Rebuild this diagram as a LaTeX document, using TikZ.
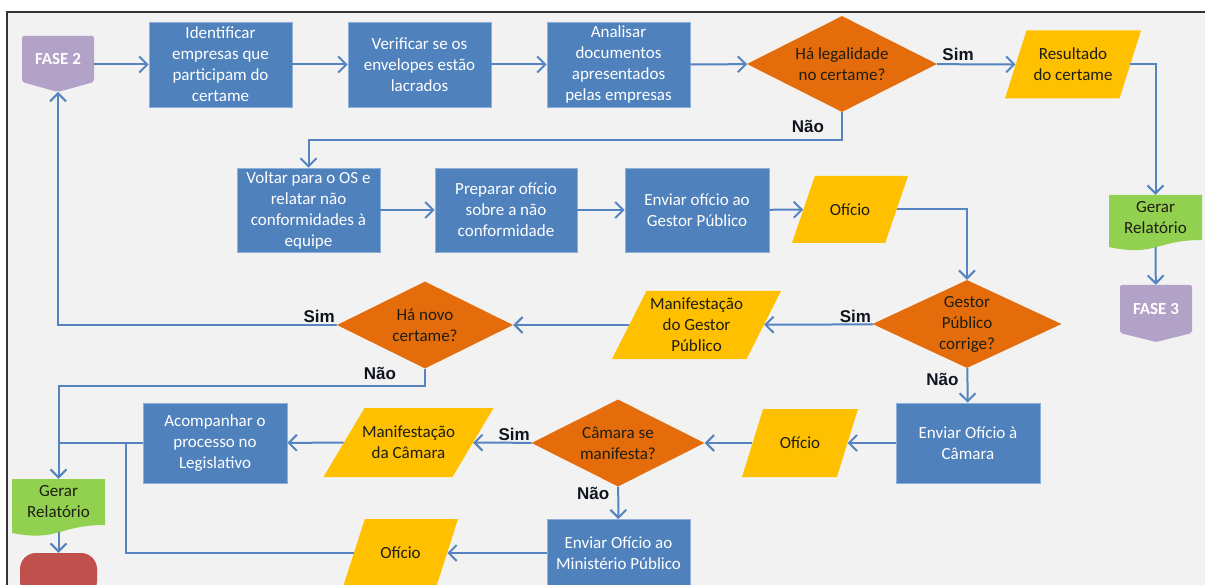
\documentclass[tikz,border=0pt]{standalone}
\usepackage{fontspec}
\setmainfont{Carlito}
\newfontfamily\lblfont{Liberation Sans}
\usetikzlibrary{arrows.meta,shapes.geometric}
\definecolor{bgc}{HTML}{F2F2F2}
\definecolor{bluebox}{HTML}{4F81BD}
\definecolor{blueedge}{HTML}{8DB0DA}
\definecolor{orangec}{HTML}{E46C0A}
\definecolor{goldc}{HTML}{FFC000}
\definecolor{purplec}{HTML}{B3A2C7}
\definecolor{greenc}{HTML}{92D050}
\definecolor{redc}{HTML}{C0504D}
\definecolor{linec}{HTML}{5584C0}
\definecolor{txtc}{HTML}{1E1E14}
\definecolor{lblc}{HTML}{10141E}
\tikzset{
 base/.style={font=\fontsize{17}{21}\selectfont, align=center, inner sep=0pt},
 proc/.style={base, rectangle, fill=bluebox, draw=blueedge, line width=0.8pt, text=white, minimum width=143, minimum height=84},
 dia/.style={diamond, fill=orangec, inner sep=1pt},
 dtxt/.style={base, text=txtc},
 io/.style={trapezium, trapezium stretches=true, fill=goldc, inner sep=1pt, minimum height=68},
 conn/.style={draw=linec, line width=2pt},
 arr/.style={conn, -{Straight Barb[length=8pt,width=16pt]}},
 lbl/.style={font=\lblfont\bfseries\fontsize{17}{20}\selectfont, text=lblc, inner sep=1pt},
 fasetxt/.style={base, font=\bfseries\fontsize{17}{21}\selectfont, text=white, minimum width=72},
 doctxt/.style={base, text=txtc, minimum width=93, minimum height=46},
 term/.style={rectangle, rounded corners=16pt, fill=redc, minimum width=77, minimum height=44},
}
\begin{document}
\begin{tikzpicture}[x=1pt,y=-1pt]
\useasboundingbox (0,0) rectangle (1205,585);
\clip (0,0) rectangle (1205,585);
\fill[white] (0,0) rectangle (1205,585);
\fill[bgc] (7,12) rectangle (1205,585);
\draw[black!80, line width=1.4pt] (7,590) -- (7,12) -- (1210,12);

% ---- custom shapes (FASE, document) ----
\fill[purplec, rounded corners=2pt] (22,36) -- (94,36) -- (94,82) -- (58,92) -- (22,82) -- cycle;
\node[fasetxt, minimum height=46] (fase2) at (58,59) {FASE 2};
\coordinate (fase2tip) at (58,92);

\fill[purplec, rounded corners=2pt] (1120,285) -- (1192,285) -- (1192,333) -- (1156,342) -- (1120,333) -- cycle;
\node[fasetxt, minimum height=48] (fase3) at (1156,309) {FASE 3};

\fill[greenc] (1109,195) -- (1202,195) -- (1202,240) .. controls (1155.5,240) and (1155.5,257) .. (1109,247) -- cycle;
\node[doctxt] (ger1) at (1155.5,218) {Gerar\\Relatório};
\coordinate (g1b) at (1155.5,247);

\fill[greenc] (12,479) -- (105,479) -- (105,525) .. controls (58.5,525) and (58.5,542) .. (12,533) -- cycle;
\node[doctxt] (ger2) at (58.5,502) {Gerar\\Relatório};
\coordinate (g2b) at (58.5,532);

\node[term] (red) at (58.5,575) {};

% ---- row 1 ----
\node[proc, minimum height=85] (id) at (220.5,64.5) {Identificar\\empresas que\\participam do\\certame};
\node[proc, minimum height=85] (ver) at (419.5,64.5) {Verificar se os\\envelopes estão\\lacrados};
\node[proc, minimum height=85] (ana) at (618.5,64.5) {Analisar\\documentos\\apresentados\\pelas empresas};
\node[dia, minimum width=190, minimum height=96, label={[dtxt]center:{Há legalidade\\no certame?}}] (leg) at (842,64) {};
\node[io, minimum width=136, trapezium left angle=77, trapezium right angle=103, label={[dtxt]center:{Resultado\\do certame}}] (res) at (1073,64.5) {};

% ---- row 2 ----
\node[proc] (volt) at (308.5,210) {Voltar para o OS e\\relatar não\\conformidades à\\equipe};
\node[proc, minimum width=142] (prep) at (506,210) {Preparar ofício\\sobre a não\\conformidade};
\node[proc, minimum width=144] (envg) at (697,210) {Enviar ofício ao\\Gestor Público};
\node[io, minimum width=116, minimum height=67, trapezium left angle=72, trapezium right angle=108, label={[dtxt]center:{Ofício}}] (of1) at (850,209.5) {};

% ---- row 3 ----
\node[dia, minimum width=189, minimum height=88, label={[dtxt]center:{Gestor\\Público\\corrige?}}] (gest) at (967,324) {};
\node[io, minimum width=169, trapezium left angle=71, trapezium right angle=109, label={[dtxt]center:{Manifestação\\do Gestor\\Público}}] (manG) at (696.5,325) {};
\node[dia, minimum width=176, minimum height=87, label={[dtxt]center:{Há novo\\certame?}}] (novo) at (425,325) {};

% ---- row 4 ----
\node[proc, minimum width=144, minimum height=80] (envc) at (968,443) {Enviar Ofício à\\Câmara};
\node[io, minimum width=116, trapezium left angle=74, trapezium right angle=106, label={[dtxt]center:{Ofício}}] (of2) at (800,443) {};
\node[dia, minimum width=173, minimum height=87, label={[dtxt]center:{Câmara se\\manifesta?}}] (cam) at (618,443) {};
\node[io, minimum width=170, minimum height=69, trapezium left angle=65, trapezium right angle=115, label={[dtxt]center:{Manifestação\\da Câmara}}] (manC) at (408.5,442.5) {};
\node[proc, minimum width=144, minimum height=80] (acomp) at (215,443) {Acompanhar o\\processo no\\Legislativo};

% ---- row 5 ----
\node[proc, minimum height=67] (mp) at (618.5,553) {Enviar Ofício ao\\Ministério Público};
\node[io, minimum width=115, trapezium left angle=73, trapezium right angle=107, label={[dtxt]center:{Ofício}}] (of3) at (400.5,553) {};
\coordinate (jn) at (126,443);

% ---- connectors ----
\draw[arr] (fase2.east |- id) -- (id);
\draw[arr] (id) -- (ver);
\draw[arr] (ver) -- (ana);
\draw[arr] (ana) -- (leg);
\draw[arr] (leg) -- node[lbl, pos=0.27, above=2pt]{Sim} (res);
\draw[arr] (res) -| (ger1);
\draw[arr] (g1b) -- (fase3);
\draw[arr] (leg.south) -- node[lbl, midway, left=16pt]{Não} ++(0,28) -| (volt);
\draw[arr] (volt) -- (prep);
\draw[arr] (prep) -- (envg);
\draw[arr] (envg) -- (of1);
\draw[arr] (of1) -| (gest);
\draw[arr] (gest) -- node[lbl, at start, anchor=south east]{Sim} (manG);
\draw[arr] (manG) -- (novo);
\draw[arr] (novo) -| node[lbl, at start, anchor=south east]{Sim} (fase2tip);
\draw[arr] (novo.south) -- node[lbl, pos=0.3, left=27pt]{Não} ++(0,17) -| (ger2);
\draw[arr] (gest) -- node[lbl, pos=0.34, left=7pt]{Não} (envc);
\draw[arr] (envc) -- (of2);
\draw[arr] (of2) -- (cam);
\draw[arr] (cam) -- node[lbl, at start, anchor=south east]{Sim} (manC);
\draw[arr] (manC) -- (acomp);
\draw[conn] (acomp) -- (acomp -| ger2);
\draw[arr] (cam) -- node[lbl, pos=0.2, left=7pt]{Não} (mp);
\draw[arr] (mp) -- (of3);
\draw[conn] (of3) -| (jn);
\draw[arr] (g2b) -- (red);
\end{tikzpicture}
\end{document}
